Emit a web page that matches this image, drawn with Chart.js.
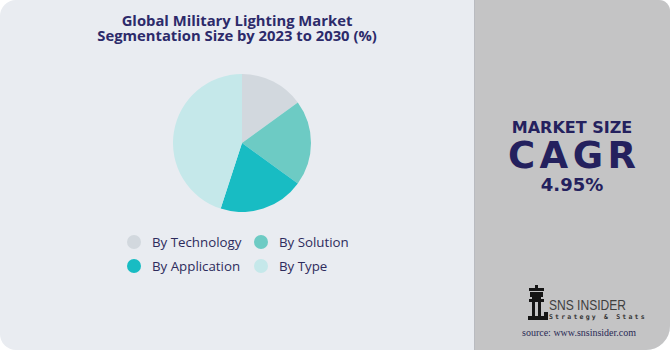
<!DOCTYPE html>
<html>
<head>
<meta charset="utf-8">
<script src="https://cdn.jsdelivr.net/npm/chart.js@4/dist/chart.umd.min.js"></script>
<style>
  html,body{margin:0;padding:0;background:#ffffff;width:670px;height:350px;overflow:hidden;}
  #card{position:absolute;left:0;top:0;width:670px;height:350px;background:#e9ecf1;
        border-radius:16px 11px 24px 16px;overflow:hidden;}
  #side{position:absolute;left:474px;top:0;width:196px;height:350px;background:#c4c4c5;
        border-left:1px solid #b9bbc0;box-sizing:border-box;}
  .t{position:absolute;white-space:nowrap;font-family:"Open Sans","DejaVu Sans",sans-serif;}
  .title{left:0;width:474px;text-align:center;font-weight:700;font-size:14.8px;line-height:15px;color:#2c2a6a;}
  #pie{position:absolute;left:173px;top:74px;}
  .lg{position:absolute;font-family:"Open Sans",sans-serif;font-size:13.3px;line-height:18px;color:#2d2b5c;white-space:nowrap;}
  .dot{position:absolute;width:14px;height:14px;border-radius:50%;}
  .rt{position:absolute;left:474px;width:196px;text-align:center;color:#24215e;font-family:"DejaVu Sans","Open Sans",sans-serif;font-weight:700;white-space:nowrap;}
</style>
</head>
<body>
<div id="card">
  <div id="side"></div>
  <div class="t title" style="top:13px;">Global Military Lighting Market</div>
  <div class="t title" style="top:28px;">Segmentation Size by 2023 to 2030 (%)</div>
  <canvas id="pie" width="138" height="138"></canvas>
  <div id="legend"></div>
  <div class="rt" id="ms" style="top:119px;font-size:16px;line-height:17px;">MARKET SIZE</div>
  <div class="rt" id="cagr" style="top:139px;font-size:37px;line-height:33px;letter-spacing:4.5px;text-indent:4.5px;">CAGR</div>
  <div class="rt" id="pct" style="top:175px;font-size:18px;line-height:20px;">4.95%</div>
  <svg style="position:absolute;left:527px;top:285px;" width="22" height="36" viewBox="0 0 22 36">
    <g fill="#151515">
      <rect x="8" y="0" width="3" height="3"/>
      <rect x="2" y="3" width="15" height="3"/>
      <rect x="3" y="7" width="13" height="5"/>
      <rect x="5" y="12" width="9" height="2"/>
      <rect x="2" y="14" width="15" height="3"/>
      <rect x="5" y="17" width="3" height="14"/>
      <rect x="11" y="17" width="3" height="14"/>
      <rect x="1" y="31" width="17" height="4"/>
      <rect x="17" y="27" width="4" height="8"/>
    </g>
  </svg>
  <div class="t" id="sns" style="left:549px;top:298px;font-family:'Liberation Sans','DejaVu Sans',sans-serif;font-size:15.5px;line-height:14px;color:#3f3f3f;transform-origin:0 0;">SNS INSIDER</div>
  <div class="t" id="ss" style="left:549px;top:314px;font-family:'DejaVu Sans Mono',monospace;font-size:6.5px;line-height:7px;letter-spacing:2.2px;color:#333;font-weight:700;">Strategy &amp; Stats</div>
  <div class="t" id="src" style="left:522px;top:327px;font-family:'Liberation Serif','DejaVu Serif',serif;font-size:10px;line-height:11px;color:#2a2a55;">source: www.snsinsider.com</div>
</div>
<script>
const categories = ["By Technology", "By Solution", "By Application", "By Type"];
const shares = [15, 20, 20, 45];
const sliceColors = ["#d2d8de", "#6dcbc4", "#18bcc3", "#c5e8ea"];

new Chart(document.getElementById("pie"), {
  type: "pie",
  data: {
    labels: categories,
    datasets: [{ data: shares, backgroundColor: sliceColors, borderWidth: 0 }]
  },
  options: {
    responsive: false,
    animation: false,
    plugins: { legend: { display: false }, tooltip: { enabled: false } },
    layout: { padding: 0 }
  }
});

// legend in two aligned columns
const legend = document.getElementById("legend");
const colX = [127, 254];
const rowY = [242, 266];
categories.forEach((c, i) => {
  const col = i % 2, row = Math.floor(i / 2);
  const d = document.createElement("div");
  d.className = "dot";
  d.style.background = sliceColors[i];
  d.style.left = colX[col] + "px";
  d.style.top = (rowY[row] - 7) + "px";
  legend.appendChild(d);
  const s = document.createElement("div");
  s.className = "lg";
  s.textContent = c;
  s.style.left = (colX[col] + 25) + "px";
  s.style.top = (rowY[row] - 9) + "px";
  legend.appendChild(s);
});

// condense the logo wordmark to its width in the reference
const sns = document.getElementById("sns");
const w = sns.getBoundingClientRect().width;
sns.style.transform = "scaleX(" + (77 / w) + ")";
</script>
</body>
</html>
